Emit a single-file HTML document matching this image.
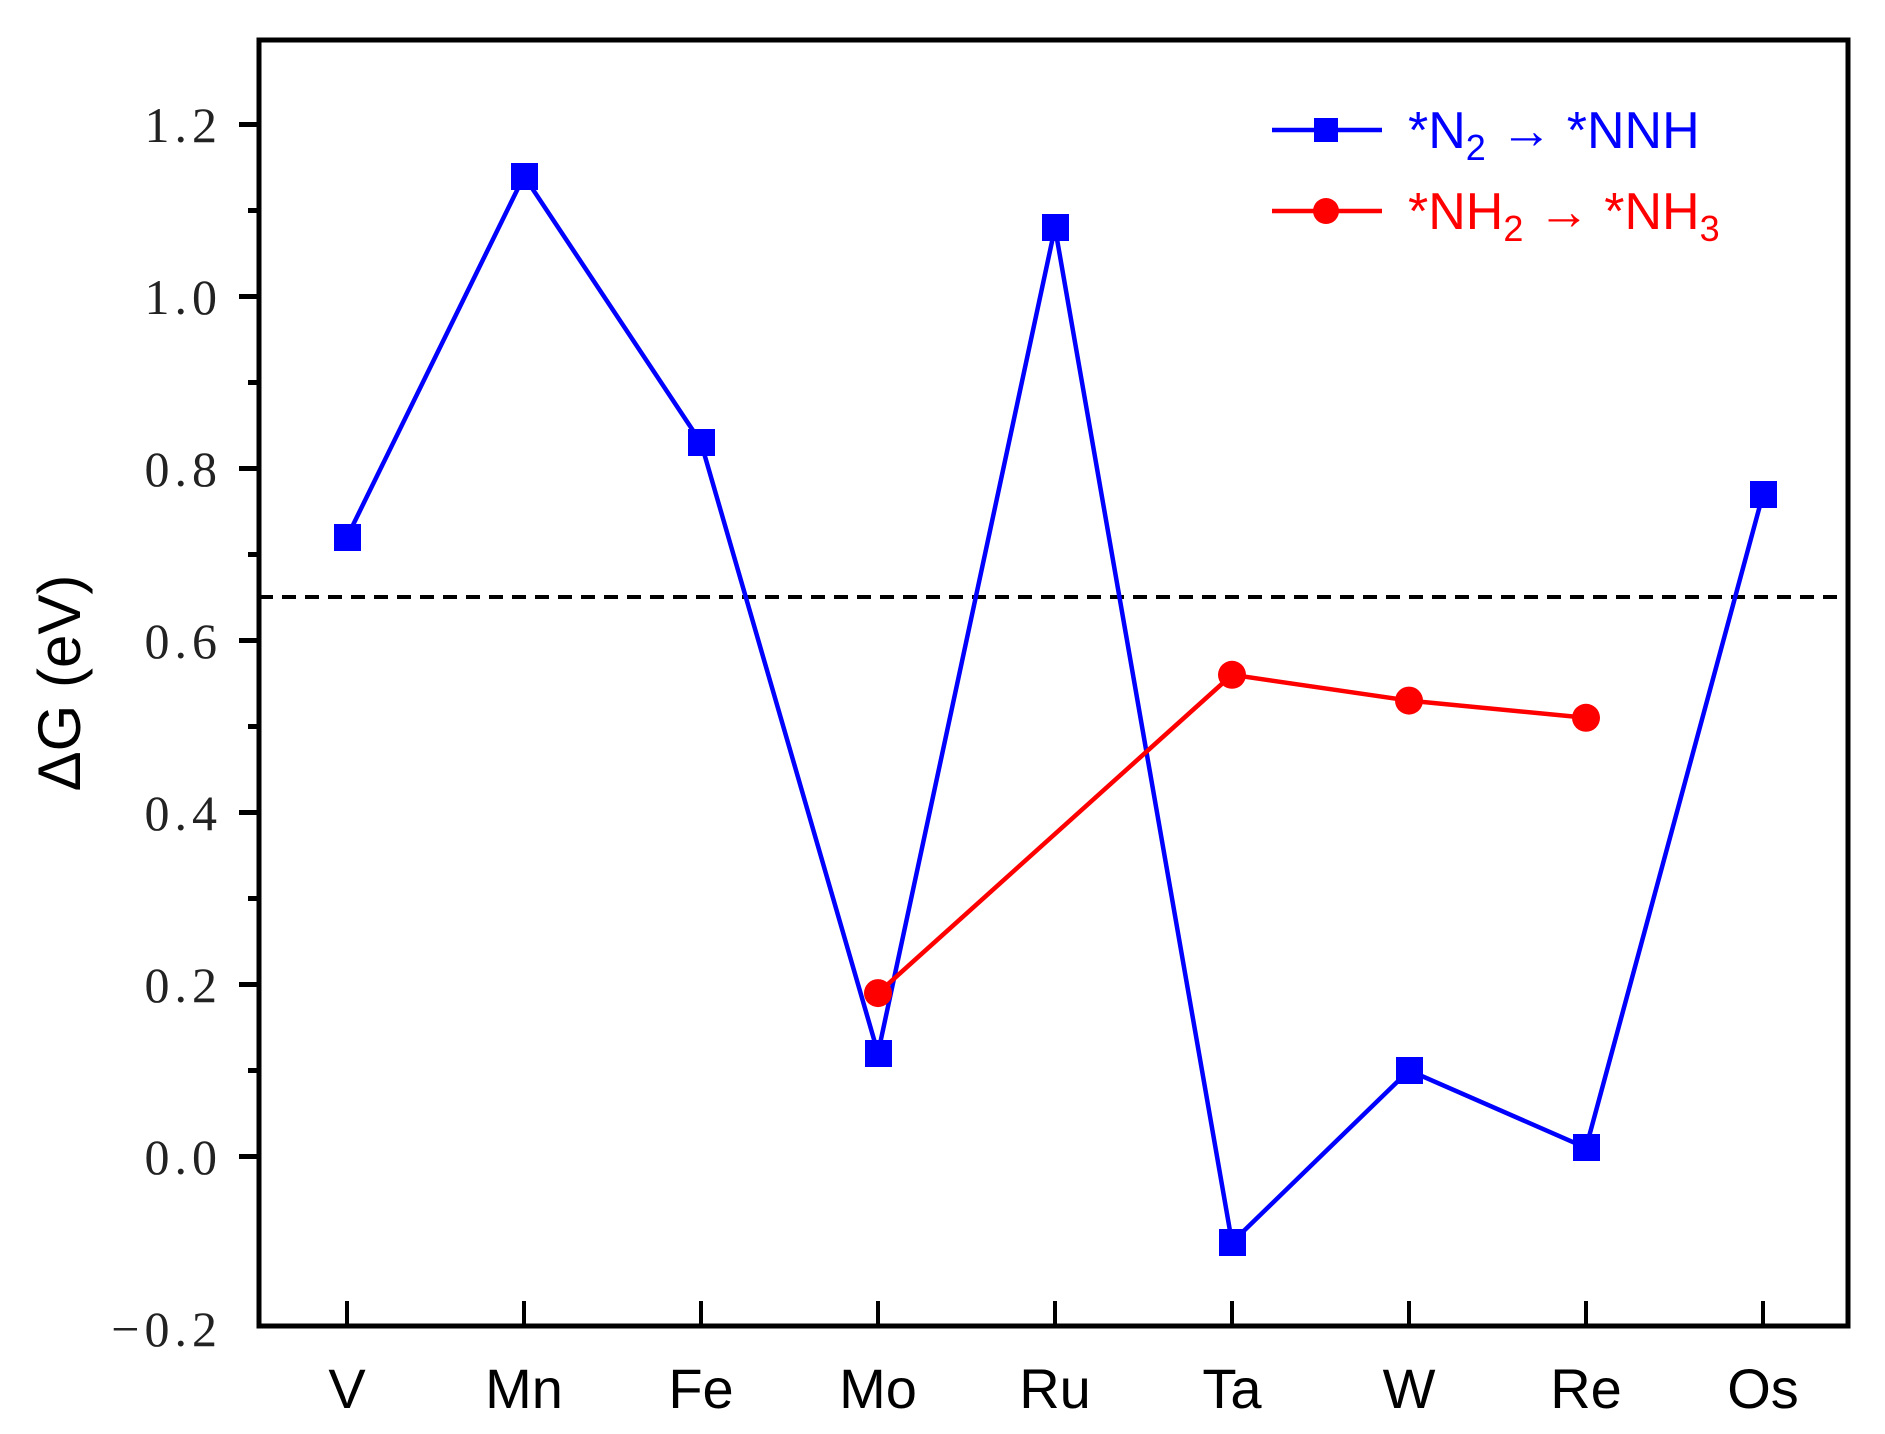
<!DOCTYPE html>
<html><head><meta charset="utf-8"><style>
html,body{margin:0;padding:0;background:#fff;}
svg{display:block;}
</style></head><body>
<svg width="1885" height="1434" viewBox="0 0 1885 1434" xmlns="http://www.w3.org/2000/svg">
<rect width="1885" height="1434" fill="#fff"/>
<line x1="259" y1="597" x2="1848" y2="597" stroke="#000" stroke-width="4" stroke-dasharray="14,9"/>
<rect x="259" y="40" width="1589" height="1286" fill="none" stroke="#000" stroke-width="5"/>
<g stroke="#000" stroke-width="5">
<line x1="239" y1="124.5" x2="259" y2="124.5"/>
<line x1="239" y1="296.5" x2="259" y2="296.5"/>
<line x1="239" y1="468.5" x2="259" y2="468.5"/>
<line x1="239" y1="640.5" x2="259" y2="640.5"/>
<line x1="239" y1="812.5" x2="259" y2="812.5"/>
<line x1="239" y1="984.5" x2="259" y2="984.5"/>
<line x1="239" y1="1156.5" x2="259" y2="1156.5"/>
<line x1="248" y1="210.5" x2="259" y2="210.5"/>
<line x1="248" y1="382.5" x2="259" y2="382.5"/>
<line x1="248" y1="554.5" x2="259" y2="554.5"/>
<line x1="248" y1="726.5" x2="259" y2="726.5"/>
<line x1="248" y1="898.5" x2="259" y2="898.5"/>
<line x1="248" y1="1070.5" x2="259" y2="1070.5"/>
</g>
<g stroke="#000" stroke-width="4">
<line x1="347" y1="1301" x2="347" y2="1326"/>
<line x1="524" y1="1301" x2="524" y2="1326"/>
<line x1="701" y1="1301" x2="701" y2="1326"/>
<line x1="878" y1="1301" x2="878" y2="1326"/>
<line x1="1055" y1="1301" x2="1055" y2="1326"/>
<line x1="1232" y1="1301" x2="1232" y2="1326"/>
<line x1="1409" y1="1301" x2="1409" y2="1326"/>
<line x1="1586" y1="1301" x2="1586" y2="1326"/>
<line x1="1763" y1="1301" x2="1763" y2="1326"/>
</g>
<g font-family="Liberation Serif, serif" font-size="50" fill="#222" text-anchor="end" letter-spacing="5">
<text x="222" y="142">1.2</text>
<text x="222" y="314">1.0</text>
<text x="222" y="486">0.8</text>
<text x="222" y="658">0.6</text>
<text x="222" y="830">0.4</text>
<text x="222" y="1002">0.2</text>
<text x="222" y="1174">0.0</text>
<text x="222" y="1346">−0.2</text>
</g>
<g font-family="Liberation Sans, sans-serif" font-size="56" fill="#000" text-anchor="middle">
<text x="347" y="1408">V</text><text x="524" y="1408">Mn</text><text x="701" y="1408">Fe</text>
<text x="878" y="1408">Mo</text><text x="1055" y="1408">Ru</text><text x="1232" y="1408">Ta</text>
<text x="1409" y="1408">W</text><text x="1586" y="1408">Re</text><text x="1763" y="1408">Os</text>
</g>
<text transform="translate(80,683) rotate(-90)" font-family="Liberation Sans, sans-serif" font-size="60" text-anchor="middle" fill="#000">ΔG (eV)</text>
<polyline fill="none" stroke="#0000ff" stroke-width="4.5" points="347,537.2 524,176 701,442.6 878,1053.2 1055,227.6 1232,1242.4 1409,1070.4 1586,1147.8 1763,494.2"/>
<g fill="#0000ff">
<rect x="334" y="524" width="27" height="27"/><rect x="511" y="163" width="27" height="27"/>
<rect x="688" y="429" width="27" height="27"/><rect x="865" y="1040" width="27" height="27"/>
<rect x="1042" y="214" width="27" height="27"/><rect x="1219" y="1229" width="27" height="27"/>
<rect x="1396" y="1057" width="27" height="27"/><rect x="1573" y="1134" width="27" height="27"/>
<rect x="1750" y="481" width="27" height="27"/>
</g>
<polyline fill="none" stroke="#ff0000" stroke-width="4.5" points="878,993.1 1232,674.8 1409,700.6 1586,717.8"/>
<g fill="#ff0000">
<circle cx="878" cy="993.1" r="14"/><circle cx="1232" cy="674.8" r="14"/>
<circle cx="1409" cy="700.6" r="14"/><circle cx="1586" cy="717.8" r="14"/>
</g>
<line x1="1272" y1="130" x2="1382" y2="130" stroke="#0000ff" stroke-width="4.5"/>
<rect x="1314" y="118" width="24" height="24" fill="#0000ff"/>
<text x="1408" y="148" font-family="Liberation Sans, sans-serif" font-size="52" fill="#0000ff">*N<tspan font-size="36" dy="12">2</tspan><tspan dy="-12"> → *NNH</tspan></text>
<line x1="1272" y1="211" x2="1382" y2="211" stroke="#ff0000" stroke-width="4.5"/>
<circle cx="1326" cy="211" r="13" fill="#ff0000"/>
<text x="1408" y="229" font-family="Liberation Sans, sans-serif" font-size="52" fill="#ff0000">*NH<tspan font-size="36" dy="12">2</tspan><tspan dy="-12"> → *NH</tspan><tspan font-size="36" dy="12">3</tspan></text>
</svg>
</body></html>
